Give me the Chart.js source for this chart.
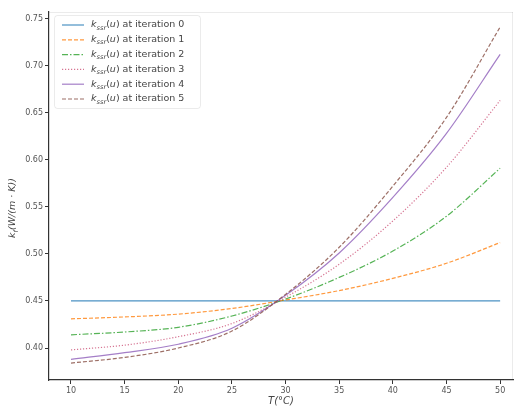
<!DOCTYPE html>
<html><head><meta charset="utf-8">
<script src="https://cdn.jsdelivr.net/npm/chart.js@4"></script>
<style>html,body{margin:0;padding:0;background:#fff}#wrap{width:516px;height:407px;position:relative}</style>
</head><body><div id="wrap"><canvas id="c" width="516" height="407"></canvas></div>
<script>
// ---- data ----
const temps = [10, 15, 20, 25, 30, 35, 40, 45, 50];
const iter0 = [0.450, 0.450, 0.450, 0.450, 0.450, 0.450, 0.450, 0.450, 0.450];
const iter1 = [0.431, 0.433, 0.436, 0.442, 0.451, 0.461, 0.474, 0.490, 0.512];
const iter2 = [0.414, 0.417, 0.422, 0.434, 0.452, 0.475, 0.503, 0.540, 0.591];
const iter3 = [0.398, 0.403, 0.412, 0.426, 0.454, 0.489, 0.535, 0.592, 0.663];
const iter4 = [0.388, 0.395, 0.404, 0.421, 0.456, 0.501, 0.560, 0.628, 0.712];
const iter5 = [0.384, 0.390, 0.400, 0.418, 0.457, 0.507, 0.572, 0.645, 0.741];
const seriesLabels = ['at iteration 0', 'at iteration 1', 'at iteration 2', 'at iteration 3', 'at iteration 4', 'at iteration 5'];
const legendSymbol = {base: 'k', sub: 'ssr', arg: 'u'};
const xTicks = [10, 15, 20, 25, 30, 35, 40, 45, 50];
const yTicks = [0.40, 0.45, 0.50, 0.55, 0.60, 0.65, 0.70, 0.75];
const xTitle = 'T(°C)';
const yTitle = {base: 'k', sub: 'f', rest: '(W/(m · K))'};

// ---- styles ----
const allSeries = [iter0, iter1, iter2, iter3, iter4, iter5];
const colors = ['rgba(31,119,180,0.8)', 'rgba(255,127,14,0.8)', 'rgba(44,160,44,0.8)', 'rgba(200,70,110,0.75)', 'rgba(148,103,189,0.85)', 'rgba(140,86,75,0.85)'];
const dashes = [[], [4, 2], [6, 2, 1.5, 2], [1.2, 1.8], [], [4, 2]];

const datasets = allSeries.map((s, i) => ({
  label: 'k_ssr(u) ' + seriesLabels[i],
  data: temps.map((t, j) => ({x: t, y: s[j]})),
  borderColor: colors[i],
  borderWidth: 1.2,
  borderDash: dashes[i],
  pointRadius: 0,
  fill: false,
  cubicInterpolationMode: 'monotone',
  order: 6 - i
}));

function richWidth(ctx, segs, size) {
  let w = 0;
  segs.forEach(s => {
    const fs = s.sub ? size * 0.7 : size;
    ctx.font = (s.italic ? 'italic ' : '') + fs + 'px "DejaVu Sans"';
    w += ctx.measureText(s.t).width;
  });
  return w;
}
function drawRich(ctx, segs, x, y, size, color) {
  ctx.fillStyle = color;
  ctx.textBaseline = 'middle';
  ctx.textAlign = 'left';
  segs.forEach(s => {
    const fs = s.sub ? size * 0.7 : size;
    ctx.font = (s.italic ? 'italic ' : '') + fs + 'px "DejaVu Sans"';
    ctx.fillText(s.t, x, y + (s.sub ? size * 0.3 : 0));
    x += ctx.measureText(s.t).width;
  });
}

const decor = {
  id: 'decor',
  afterDraw(chart) {
    const ctx = chart.ctx;
    const a = chart.chartArea;
    ctx.save();
    // faint top / right frame
    ctx.strokeStyle = 'rgba(0,0,0,0.08)';
    ctx.lineWidth = 1;
    ctx.beginPath();
    ctx.moveTo(a.left, a.top + 0.5); ctx.lineTo(a.right, a.top + 0.5);
    ctx.moveTo(a.right - 0.5, a.top); ctx.lineTo(a.right - 0.5, a.bottom);
    ctx.stroke();

    // legend
    const lx = 54, ly = 15, lw = 146, lh = 93;
    ctx.fillStyle = 'rgba(255,255,255,0.8)';
    ctx.strokeStyle = 'rgba(0,0,0,0.08)';
    ctx.beginPath();
    ctx.roundRect(lx + 0.5, ly + 0.5, lw, lh, 3);
    ctx.fill(); ctx.stroke();
    for (let i = 0; i < datasets.length; i++) {
      const y = 25 + i * 14.8;
      ctx.strokeStyle = colors[i];
      ctx.lineWidth = 1.2;
      ctx.setLineDash(dashes[i]);
      ctx.beginPath();
      ctx.moveTo(62, y); ctx.lineTo(84, y);
      ctx.stroke();
      ctx.setLineDash([]);
      const segs = [
        {t: legendSymbol.base, italic: true},
        {t: legendSymbol.sub, italic: true, sub: true},
        {t: '('}, {t: legendSymbol.arg, italic: true}, {t: ') ' + seriesLabels[i]}
      ];
      drawRich(ctx, segs, 91, y, 9.5, '#444');
    }

    // y title
    const ysegs = [{t: yTitle.base, italic: true}, {t: yTitle.sub, italic: true, sub: true}, {t: yTitle.rest, italic: true}];
    const w = richWidth(ctx, ysegs, 9.5);
    ctx.translate(13, (a.top + a.bottom) / 2 + 12);
    ctx.rotate(-Math.PI / 2);
    drawRich(ctx, ysegs, -w / 2, 0, 9.5, '#444');
    ctx.restore();
  }
};

new Chart(document.getElementById('c'), {
  type: 'line',
  data: {datasets},
  options: {
    responsive: false,
    animation: false,
    devicePixelRatio: 1,
    layout: {padding: {left: 0, top: 12, right: 3, bottom: 0}},
    plugins: {legend: {display: false}, tooltip: {enabled: false}},
    scales: {
      x: {
        type: 'linear', min: 7.95, max: 51.2,
        afterBuildTicks: s => { s.ticks = xTicks.map(v => ({value: v})); },
        afterFit: s => { s.height = 27; },
        grid: {drawOnChartArea: false, drawTicks: true, tickLength: 4, color: '#333'},
        border: {display: true, color: '#333', width: 1.2},
        ticks: {font: {family: 'DejaVu Sans', size: 8}, color: '#555', padding: 2, maxRotation: 0,
                callback: v => String(v)},
        title: {display: true, text: xTitle, font: {family: 'DejaVu Sans', size: 10, style: 'italic'}, color: '#444', padding: {top: 0, bottom: 0}}
      },
      y: {
        type: 'linear', min: 0.366, max: 0.757,
        afterBuildTicks: s => { s.ticks = yTicks.map(v => ({value: v})); },
        afterFit: s => { s.width = 49; },
        grid: {drawOnChartArea: false, drawTicks: true, tickLength: 4, color: '#333'},
        border: {display: true, color: '#333', width: 1.2},
        ticks: {font: {family: 'DejaVu Sans', size: 8}, color: '#555', padding: 2,
                callback: v => Number(v).toFixed(2)}
      }
    }
  },
  plugins: [decor]
});
</script></body></html>
